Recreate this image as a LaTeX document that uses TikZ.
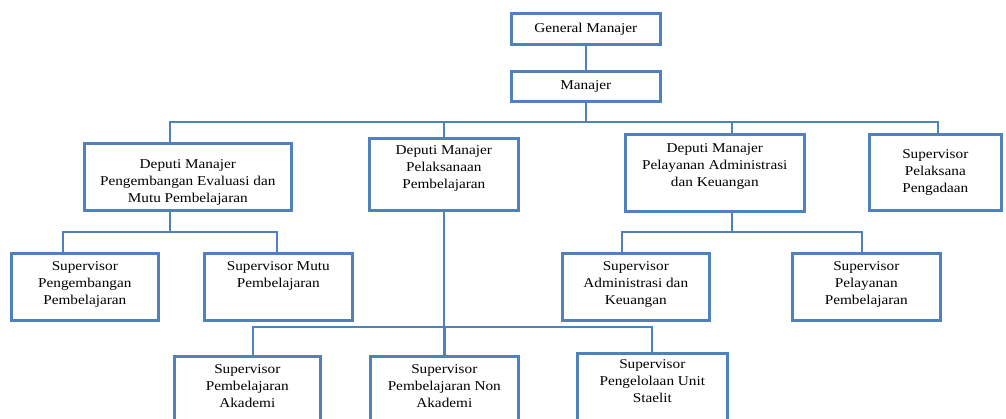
\documentclass[tikz,border=0pt]{standalone}
\usepackage{fontspec}
\setmainfont{Liberation Serif}[FakeStretch=1.13]
\usepackage{tikz}
\definecolor{birugaris}{RGB}{79,129,189}
% isi kotak: lebar, tinggi, jarak atas, teks
\newcommand{\isi}[4]{\parbox[c][#2][t]{#1}{\centering\vspace*{#3}#4}}

\begin{document}
\begin{tikzpicture}[x=1pt, y=-1pt]

% Batas gambar
\clip (0,0) rectangle (1006,418);
\fill[white] (0,0) rectangle (1006,418);

% Gaya kotak dan garis penghubung
\tikzstyle{kotak} = [draw=birugaris, line width=2.6pt, inner sep=0pt, anchor=north west, font=\fontsize{13.5}{17}\selectfont]
\tikzstyle{garis} = [draw=birugaris, line width=2.4pt]

% Pimpinan
\node[kotak] (gm)  at (510,12)  {\isi{149pt}{31pt}{9.5pt}{General Manajer}};
\node[kotak] (man) at (510,70)  {\isi{149pt}{30pt}{9pt}{Manajer}};

% Deputi
\node[kotak] (d1) at (83,142)  {\isi{207pt}{67pt}{16.5pt}{Deputi Manajer\\Pengembangan Evaluasi dan\\Mutu Pembelajaran}};
\node[kotak] (d2) at (368,137) {\isi{149pt}{72pt}{7pt}{Deputi Manajer\\Pelaksanaan\\Pembelajaran}};
\node[kotak] (d3) at (624,133) {\isi{179pt}{77pt}{9pt}{Deputi Manajer\\Pelayanan Administrasi\\dan Keuangan}};
\node[kotak] (sp) at (868,133) {\isi{132pt}{76pt}{15pt}{Supervisor\\Pelaksana\\Pengadaan}};

% Supervisor
\node[kotak] (s1) at (10,252)  {\isi{147pt}{67pt}{8pt}{Supervisor\\Pengembangan\\Pembelajaran}};
\node[kotak] (s2) at (203,252) {\isi{148pt}{67pt}{8pt}{Supervisor Mutu\\Pembelajaran}};
\node[kotak] (s3) at (561,252) {\isi{147pt}{67pt}{8pt}{Supervisor\\Administrasi dan\\Keuangan}};
\node[kotak] (s4) at (791,252) {\isi{148pt}{67pt}{8pt}{Supervisor\\Pelayanan\\Pembelajaran}};
\node[kotak] (s5) at (173,355) {\isi{146pt}{70pt}{8pt}{Supervisor\\Pembelajaran\\Akademi}};
\node[kotak] (s6) at (369,355) {\isi{148pt}{70pt}{8pt}{Supervisor\\Pembelajaran Non\\Akademi}};
\node[kotak] (s7) at (576,352) {\isi{150pt}{73pt}{6pt}{Supervisor\\Pengelolaan Unit\\Staelit}};

% Titik cabang
\coordinate (b0) at (170,122);
\coordinate (b1) at (938,122);
\coordinate (r0) at (732,232);
\coordinate (r1) at (622,232);
\coordinate (r2) at (862,232);
\coordinate (k1) at (63,232);
\coordinate (k2) at (277,232);
\coordinate (m1) at (253,327);
\coordinate (m3) at (652,327);

% Penghubung atas
\draw[garis] (gm) -- (man);
\draw[garis] (man.south) -- (man.south |- b0);
\draw[garis] (b0 |- d1.north) -- (b0) -- (b1) -- (b1 |- sp.north);
\draw[garis] (d2.north) -- (d2.north |- b0);
\draw[garis] (r0 |- d3.north) -- (r0 |- b0);

% Penghubung kiri
\draw[garis] (b0 |- d1.south) -- (b0 |- k1);
\draw[garis] (k1 |- s1.north) -- (k1) -- (k2) -- (k2 |- s2.north);

% Penghubung tengah
\draw[garis] (d2.south) -- (d2.south |- m1);
\draw[garis] (m1 |- s5.north) -- (m1) -- (m3) -- (m3 |- s7.north);
\draw[garis] (s6.north) -- (s6.north |- m1);

% Penghubung kanan
\draw[garis] (r0 |- d3.south) -- (r0);
\draw[garis] (r1 |- s3.north) -- (r1) -- (r2) -- (r2 |- s4.north);

\end{tikzpicture}
\end{document}
